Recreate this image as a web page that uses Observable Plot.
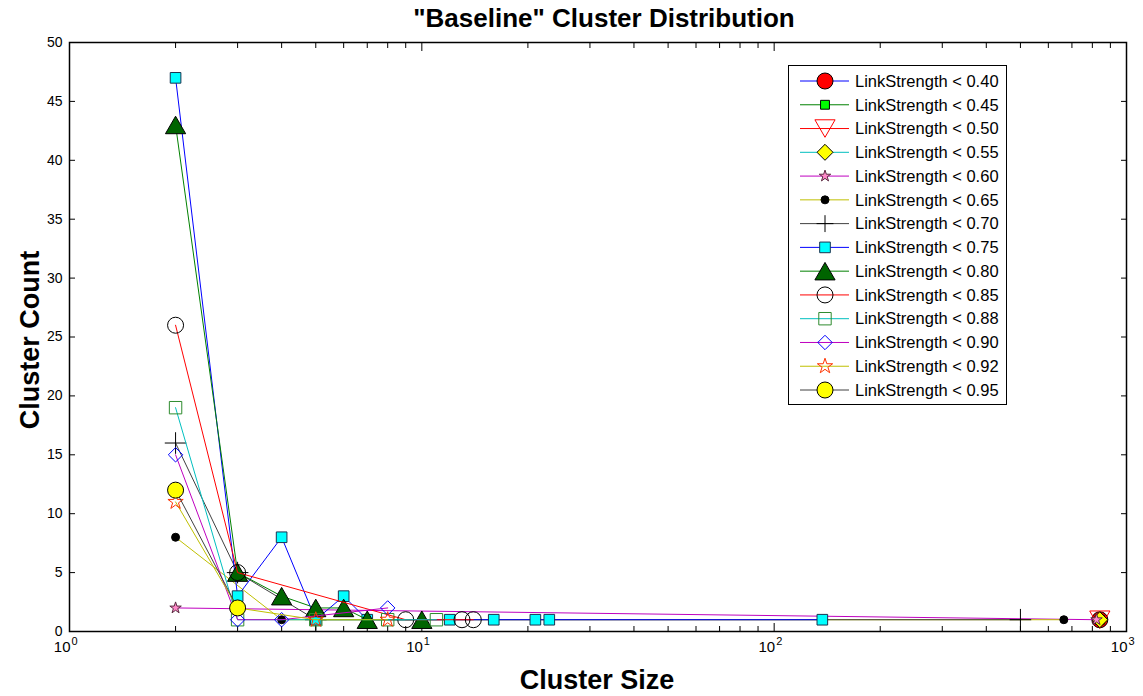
<!DOCTYPE html>
<html><head><meta charset="utf-8">
<script src="https://cdn.jsdelivr.net/npm/d3@7"></script>
<script src="https://cdn.jsdelivr.net/npm/@observablehq/plot@0.6"></script>
<style>
body{margin:0;background:#fff;font-family:"Liberation Sans",Arial,sans-serif;}
#wrap{position:relative;width:1143px;height:696px;overflow:hidden;}
#title{position:absolute;left:604px;top:18px;transform:translate(-50%,-50%);font-weight:bold;font-size:26px;color:#000;white-space:nowrap;}
#ylab{position:absolute;left:30px;top:340px;transform:translate(-50%,-50%) rotate(-90deg);font-weight:bold;font-size:27px;white-space:nowrap;}
#xlab{position:absolute;left:597px;top:680px;transform:translate(-50%,-50%);font-weight:bold;font-size:27px;white-space:nowrap;}
#legend{position:absolute;left:788px;top:65px;width:219px;height:340px;border:1px solid #000;background:#fff;box-sizing:border-box;}
</style></head><body>
<div id="wrap">
  <div id="title">"Baseline" Cluster Distribution</div>
  <div id="ylab">Cluster Count</div>
  <div id="xlab">Cluster Size</div>
  <div id="legend"></div>
</div>
<script>
// ---- data: [cluster size, cluster count] per LinkStrength threshold ----
const thresholds = ["0.40","0.45","0.50","0.55","0.60","0.65","0.70","0.75","0.80","0.85","0.88","0.90","0.92","0.95"];
const ls040 = [[840,1]];
const ls045 = [[840,1]];
const ls050 = [[840,1]];
const ls055 = [[840,1]];
const ls060 = [[2,2],[822,1]];
const ls065 = [[2,8],[4,1],[664,1]];
const ls070 = [[2,16],[3,5],[5,1],[500,1]];
const ls075 = [[2,47],[3,3],[4,8],[5,1],[6,3],[7,1],[12,1],[16,1],[21,1],[23,1],[137,1]];
const ls080 = [[2,43],[3,5],[4,3],[5,2],[6,2],[7,1],[10,1]];
const ls085 = [[2,26],[3,5],[9,1],[13,1],[14,1]];
const ls088 = [[2,19],[3,1],[5,1],[8,1],[11,1]];
const ls090 = [[2,15],[3,1],[4,1],[8,2]];
const ls092 = [[2,11],[3,2],[5,1],[8,1]];
const ls095 = [[2,12],[3,2]];
const seriesData = [ls040,ls045,ls050,ls055,ls060,ls065,ls070,ls075,ls080,ls085,ls088,ls090,ls092,ls095];
const xMajorTicks = [1,10,100,1000];
const xExponents = ["0","1","2","3"];
const yTicks = [0,5,10,15,20,25,30,35,40,45,50];

// ---- styles ----
function tri(dir){ return {draw(ctx,size){const a=Math.sqrt(4*size/Math.sqrt(3));const h=Math.sqrt(3)/2*a;
  ctx.moveTo(0,-dir*h/2);ctx.lineTo(a/2,dir*h/2);ctx.lineTo(-a/2,dir*h/2);ctx.closePath();}}; }
const triUp = tri(1), triDown = tri(-1);
const lineColors = ["#0000ff","#008000","#ff0000","#00bfbf","#bf00bf","#bfbf00","#404040","#0000ff","#008000","#ff0000","#00bfbf","#bf00bf","#bfbf00","#404040"];
const symbols = ["circle","square",triDown,"diamond2","star","circle","plus","square",triUp,"circle","square","diamond2","star","circle"];
const fills = ["#ff0000","#00ff00","none","#ffff00","#ff88c8","#000000","none","#00ffff","#006400","none","none","none","none","#ffff00"];
const strokes = ["#000000","#000000","#ff0000","#000000","#5a2a40","#000000","#000000","#1a3350","#000000","#000000","#2e8b2e","#0000ff","#ff3300","#000000"];
const radii = [8,5,7.5,7.2,3.6,4,7,6,7.5,8,7,6.5,4.8,8];
const legendRadii = [8,5,7.5,7.2,3.6,4,5.5,6,7.5,8,7,6.5,4.8,8];

const rowsFor = i => seriesData[i].map(([x,y]) => ({x, y, series: "LinkStrength < " + thresholds[i]}));

const marks = [];
seriesData.forEach((s,i) => {
  const rows = rowsFor(i);
  marks.push(Plot.line(rows, {x:"x", y:"y", stroke: lineColors[i], strokeWidth: 1}));
  marks.push(Plot.dot(rows, {x:"x", y:"y", symbol: symbols[i], r: radii[i], fill: fills[i], stroke: strokes[i], strokeWidth: 1}));
});

const xMinor = [];
for (const p of [1,10,100]) for (let k=2;k<=9;k++) xMinor.push(p*k);

const chart = Plot.plot({
  width: 1143, height: 696,
  marginTop: 42, marginLeft: 69, marginRight: 17, marginBottom: 65,
  style: {fontFamily: "'Liberation Sans', Arial, sans-serif", fontSize: "14px", background: "white", color: "black", overflow: "visible"},
  x: {type: "log", domain: [1,1000], label: null},
  y: {domain: [0,50], label: null},
  marks: [
    Plot.axisX(xMajorTicks, {anchor: "bottom", tickSize: -8, tickFormat: () => "", label: null}),
    Plot.axisX(xMajorTicks, {anchor: "top", tickSize: -8, tickFormat: () => "", label: null}),
    Plot.axisX(xMinor, {anchor: "bottom", tickSize: -5, tickFormat: () => "", label: null}),
    Plot.axisX(xMinor, {anchor: "top", tickSize: -5, tickFormat: () => "", label: null}),
    Plot.axisY(yTicks, {anchor: "left", tickSize: -6, tickPadding: 13, fontSize: 14, label: null}),
    Plot.axisY(yTicks, {anchor: "right", tickSize: -6, tickFormat: () => "", label: null}),
    Plot.text(xMajorTicks, {x: d => d, frameAnchor: "bottom", dy: 20, dx: 1, text: () => "10", textAnchor: "end", fontSize: 15}),
    Plot.text(xMajorTicks, {x: d => d, frameAnchor: "bottom", dy: 13, dx: 2, text: (d,i) => xExponents[i], textAnchor: "start", fontSize: 11}),
    ...marks,
    Plot.frame({stroke: "black", strokeWidth: 1.5})
  ]
});
document.getElementById("wrap").prepend(chart);
chart.style.position = "absolute"; chart.style.left = "0"; chart.style.top = "0";

// ---- legend ----
const lg = d3.select("#legend").append("svg").attr("width", 217).attr("height", 338)
  .style("font-family", "'Liberation Sans', Arial, sans-serif");
thresholds.forEach((t,i) => {
  const y = 15 + i*23.77;
  const g = lg.append("g").attr("transform", `translate(0,${y})`);
  g.append("line").attr("x1", 11).attr("x2", 60).attr("y1", 0).attr("y2", 0).attr("stroke", lineColors[i]).attr("stroke-width", 1);
  const sym = typeof symbols[i] === "string"
    ? {circle: d3.symbolCircle, square: d3.symbolSquare, diamond2: d3.symbolDiamond2, star: d3.symbolStar, plus: d3.symbolPlus}[symbols[i]]
    : symbols[i];
  g.append("path").attr("transform", "translate(36,0)")
    .attr("d", d3.symbol(sym, Math.PI*legendRadii[i]*legendRadii[i])())
    .attr("fill", fills[i]).attr("stroke", strokes[i]).attr("stroke-width", 1);
  g.append("text").attr("x", 66).attr("y", 0).attr("dy", "0.35em").attr("font-size", 16.5).text("LinkStrength < " + t);
});
</script>
</body></html>
